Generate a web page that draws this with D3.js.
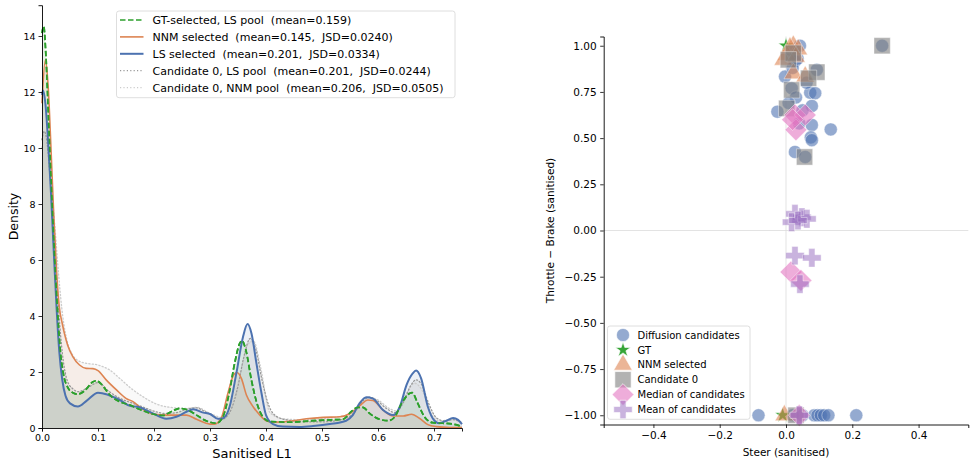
<!DOCTYPE html>
<html><head><meta charset="utf-8">
<script src="https://cdn.jsdelivr.net/npm/d3@7"></script>
<style>body{margin:0;background:#fff} text{font-family:"DejaVu Sans",sans-serif;fill:#000}</style>
</head><body><svg id="c" width="978" height="464"></svg>
<script>
// ---------- LEFT: KDE curves (x = Sanitised L1, y = density) ----------
const gtX  = [0,0.003,0.007,0.012,0.017,0.022,0.027,0.032,0.038,0.046,0.055,0.064,0.076,0.091,0.097,0.106,0.121,0.139,0.157,0.174,0.198,0.216,0.234,0.246,0.261,0.276,0.293,0.311,0.323,0.335,0.344,0.353,0.357,0.364,0.374,0.383,0.395,0.407,0.442,0.484,0.514,0.537,0.552,0.564,0.573,0.585,0.603,0.618,0.63,0.642,0.657,0.661,0.671,0.683,0.698,0.716,0.734,0.75];
const gtY  = [14.1,14.35,13.3,10.9,8.5,6.3,4.4,2.9,1.95,1.45,1.26,1.21,1.33,1.65,1.69,1.57,1.18,0.94,0.82,0.67,0.5,0.45,0.62,0.7,0.64,0.46,0.26,0.17,0.4,1.33,2.31,3.02,3.12,2.79,1.71,0.94,0.38,0.23,0.21,0.26,0.29,0.31,0.58,0.74,0.74,0.52,0.31,0.26,0.4,0.88,1.24,1.26,0.88,0.4,0.19,0.17,0.14,0.05];

const nnmX = [0,0.006,0.011,0.016,0.021,0.026,0.031,0.036,0.04,0.046,0.055,0.067,0.079,0.091,0.1,0.115,0.133,0.15,0.1625,0.18,0.198,0.222,0.24,0.258,0.276,0.3,0.308,0.32,0.332,0.342,0.348,0.356,0.365,0.377,0.389,0.4,0.4125,0.442,0.472,0.502,0.532,0.55,0.567,0.582,0.591,0.609,0.627,0.645,0.66,0.674,0.689,0.704,0.728,0.75];
const nnmY = [11.6,13.15,12.2,10.0,7.6,5.6,4.3,3.75,3.38,2.95,2.55,2.25,2.13,2.12,2.05,1.71,1.36,1.06,0.94,0.67,0.5,0.46,0.46,0.46,0.31,0.14,0.14,0.35,1.24,1.89,1.98,1.77,1.18,0.76,0.46,0.26,0.21,0.24,0.33,0.38,0.40,0.52,0.79,1.0,0.98,0.64,0.43,0.43,0.49,0.35,0.12,0.05,0.02,0.02];

const lsX  = [0,0.002,0.006,0.011,0.016,0.021,0.026,0.031,0.036,0.042,0.05,0.064,0.08,0.1,0.139,0.157,0.174,0.198,0.222,0.24,0.258,0.27,0.288,0.3,0.314,0.323,0.335,0.347,0.359,0.367,0.374,0.383,0.392,0.4,0.4125,0.43,0.46,0.484,0.514,0.543,0.555,0.567,0.579,0.591,0.609,0.627,0.639,0.651,0.662,0.668,0.677,0.689,0.701,0.71,0.722,0.734,0.743,0.75];
const lsY  = [11.9,12.05,11.6,10.2,8.4,6.3,4.3,2.7,1.75,1.15,0.88,0.77,0.98,1.26,1.0,0.79,0.74,0.52,0.33,0.4,0.58,0.67,0.55,0.5,0.33,0.35,0.76,1.95,3.26,3.71,3.38,2.3,1.24,0.46,0.14,0.05,0.04,0.07,0.14,0.26,0.46,0.88,1.1,1.05,0.64,0.46,0.76,1.54,1.95,2.05,1.77,0.76,0.26,0.17,0.26,0.36,0.29,0.14];

const c0lsX = [0,0.004,0.009,0.015,0.02,0.026,0.032,0.038,0.045,0.055,0.065,0.08,0.1,0.12,0.14,0.16,0.18,0.2,0.22,0.24,0.26,0.275,0.29,0.305,0.32,0.335,0.35,0.36,0.372,0.382,0.392,0.405,0.42,0.44,0.47,0.5,0.53,0.555,0.575,0.585,0.6,0.615,0.63,0.645,0.658,0.668,0.678,0.69,0.705,0.72,0.735,0.75];
const c0lsY = [10.3,10.6,10.2,8.8,7.4,5.4,3.6,2.4,1.7,1.4,1.3,1.42,1.62,1.3,1.05,0.9,0.75,0.6,0.52,0.55,0.68,0.72,0.6,0.45,0.3,0.55,1.5,2.5,3.2,2.8,1.8,0.8,0.4,0.28,0.22,0.22,0.28,0.5,1.0,1.1,0.95,0.7,0.55,0.9,1.5,1.72,1.55,0.9,0.35,0.25,0.3,0.2];

const c0nnmX = [0,0.005,0.011,0.017,0.023,0.03,0.037,0.045,0.055,0.067,0.08,0.1,0.121,0.139,0.157,0.18,0.204,0.228,0.258,0.276,0.3,0.322,0.341,0.355,0.368,0.378,0.39,0.407,0.43,0.46,0.5,0.53,0.555,0.58,0.6,0.62,0.635,0.65,0.665,0.68,0.695,0.71,0.73,0.75];
const c0nnmY = [10.0,10.4,9.8,8.6,7.2,5.4,4.0,3.1,2.6,2.38,2.31,2.25,2.07,1.77,1.45,1.12,0.86,0.74,0.7,0.74,0.52,0.38,1.0,2.0,3.0,3.1,2.2,0.55,0.33,0.3,0.33,0.4,0.55,1.1,1.0,0.7,0.6,1.2,1.6,1.3,0.5,0.25,0.3,0.15];

const kdeNames = ["GT-selected, LS pool  (mean=0.159)",
                  "NNM selected  (mean=0.145,  JSD=0.0240)",
                  "LS selected  (mean=0.201,  JSD=0.0334)",
                  "Candidate 0, LS pool  (mean=0.201,  JSD=0.0244)",
                  "Candidate 0, NNM pool  (mean=0.206,  JSD=0.0505)"];
const leftXTicks = [0,0.1,0.2,0.3,0.4,0.5,0.6,0.7];
const leftYTicks = [0,2,4,6,8,10,12,14];

// ---------- RIGHT: scatter (x = steer, y = throttle - brake) ----------
const candX = [0.042,0.027,0.012,-0.003,0.017,0.073,0.088,0.078,-0.026,0.135,0.078,0.075,0.078,0.027,0.058,0.093,0.29,0.03,0.008,0.05,0.04,0.02,0.062,0.035,
               -0.083,0.02,0.05,0.085,0.095,0.105,0.115,0.128,0.212];
const candY = [1.0,0.915,0.98,0.833,0.77,0.746,0.743,0.674,0.643,0.547,0.571,0.504,0.489,0.425,0.398,0.87,1.0,0.72,0.69,0.65,0.58,0.88,0.8,0.93,
               -1,-1,-1,-1,-1,-1,-1,-1,-1];
const gtPX = [0.0,-0.01];
const gtPY = [1.0,-1.0];
const nnmPX = [0.022,0.037,0.002,-0.008,0.012,0.03,0.022,0.058,-0.005];
const nnmPY = [1.0,0.98,0.95,0.924,0.99,0.94,0.85,0.833,-1.0];
const c0PX = [0.022,0.007,0.093,0.068,0.017,0.002,0.056,0.29,0.03];
const c0PY = [0.96,0.924,0.857,0.824,0.761,0.661,0.398,1.0,-1.0];
const medX = [0.027,0.058,0.03,0.02,0.015,0.045,0.04];
const medY = [0.625,0.625,0.545,0.6,-0.225,-0.27,-1.0];
const meanX = [0.027,0.048,0.017,0.063,0.036,0.027,0.078,0.042,0.04];
const meanY = [0.09,0.072,0.045,0.063,0.054,-0.136,-0.148,-0.29,-1.0];
const scatterNames = ["Diffusion candidates","GT","NNM selected","Candidate 0","Median of candidates","Mean of candidates"];
const rightXTicks = [-0.4,-0.2,0.0,0.2,0.4];
const rightYTicks = [-1.0,-0.75,-0.5,-0.25,0.0,0.25,0.5,0.75,1.0];

// ================= drawing =================
const svg = d3.select("#c");
const FONT = "DejaVu Sans, sans-serif";

// ---- left panel ----
const lx = d3.scaleLinear().domain([0,0.75]).range([42,462]);
const ly = d3.scaleLinear().domain([0,15.1]).range([428,5.2]);
const gL = svg.append("g");

const series = [
  {x:gtX,y:gtY,color:"#2ca02c",dash:"5.5,2.5",w:1.7,fill:"#2ca02c"},
  {x:nnmX,y:nnmY,color:"#dd8452",dash:null,w:1.6,fill:"#dd8452"},
  {x:lsX,y:lsY,color:"#4c72b0",dash:null,w:2.0,fill:"#4c72b0"},
  {x:c0lsX,y:c0lsY,color:"#999999",dash:"1.2,2.2",w:1.3,fill:"#808080"},
  {x:c0nnmX,y:c0nnmY,color:"#cccccc",dash:"1.2,2.2",w:1.3,fill:"#c0c0c0"}
];
const area = d3.area().x(d=>lx(d[0])).y0(ly(0)).y1(d=>ly(d[1])).curve(d3.curveMonotoneX);
const line = d3.line().x(d=>lx(d[0])).y(d=>ly(d[1])).curve(d3.curveMonotoneX);
series.forEach(s=>{ s.pts = s.x.map((v,i)=>[v,s.y[i]]); });
series.forEach(s=>{
  gL.append("path").attr("d",area(s.pts)).attr("fill",s.fill).attr("fill-opacity",0.1);
});
[4,3,0,1,2].forEach(i=>{
  const s=series[i];
  gL.append("path").attr("d",line(s.pts)).attr("fill","none").attr("stroke",s.color)
    .attr("stroke-width",s.w).attr("stroke-dasharray",s.dash).attr("stroke-linecap", s.dash && s.dash.startsWith("1.2")?"round":"butt");
});
gL.append("path").attr("d",line(series[0].pts)).attr("fill","none").attr("stroke","#2ca02c")
  .attr("stroke-width",1.7).attr("stroke-dasharray","5.5,2.5");

const axLB = gL.append("g").attr("transform","translate(0,428)")
  .call(d3.axisBottom(lx).tickValues(leftXTicks).tickFormat(d3.format(".1f")).tickSizeOuter(0).tickSize(3.5).tickPadding(3));
const axLL = gL.append("g").attr("transform","translate(42,0)")
  .call(d3.axisLeft(ly).tickValues(leftYTicks).tickFormat(d3.format("d")).tickSizeOuter(0).tickSize(3.5).tickPadding(3));
[axLB,axLL].forEach(a=>{a.selectAll("text").attr("font-size",9.5).attr("font-family",FONT).attr("fill","#000");
  a.selectAll("line").attr("stroke","#000").attr("stroke-width",0.8); a.select(".domain").attr("stroke","#000").attr("stroke-width",0.9);});

gL.append("text").attr("x",252).attr("y",458).attr("text-anchor","middle").attr("font-size",13).text("Sanitised L1");
gL.append("text").attr("transform","translate(18,216.5) rotate(-90)").attr("text-anchor","middle").attr("font-size",12.5).text("Density");

// left legend
const lg = gL.append("g");
lg.append("rect").attr("x",116.5).attr("y",11).attr("width",338.5).attr("height",86.7).attr("rx",2.5)
  .attr("fill","#fff").attr("fill-opacity",0.8).attr("stroke","#d5d5d5").attr("stroke-width",0.8);
kdeNames.forEach((n,i)=>{
  const s=series[i], cy=20+i*16.9;
  lg.append("line").attr("x1",120).attr("x2",143.5).attr("y1",cy).attr("y2",cy).attr("stroke",s.color)
    .attr("stroke-width",s.w).attr("stroke-dasharray",s.dash);
  lg.append("text").attr("x",152.5).attr("y",cy+4).attr("font-size",11).style("white-space","pre").text(n);
});

// ---- right panel ----
const rx = d3.scaleLinear().domain([-0.55,0.55]).range([603.7,968.3]);
const ry = d3.scaleLinear().domain([-1.05,1.05]).range([424.5,36.5]);
const gR = svg.append("g");
gR.append("line").attr("x1",rx(-0.55)).attr("x2",rx(0.55)).attr("y1",ry(0)).attr("y2",ry(0)).attr("stroke","#dcdcdc").attr("stroke-width",0.8);
gR.append("line").attr("x1",rx(0)).attr("x2",rx(0)).attr("y1",ry(-1.05)).attr("y2",ry(1.05)).attr("stroke","#dcdcdc").attr("stroke-width",0.8);

const mk = {
  circle:{sym:d3.symbolCircle,size:135,fill:"#4c72b0",op:0.6,rot:0},
  star:{sym:d3.symbolStar,size:70,fill:"#2ca02c",op:0.95,rot:0},
  tri:{sym:d3.symbolTriangle,size:150,fill:"#dd8452",op:0.6,rot:0},
  sq:{sym:d3.symbolSquare,size:265,fill:"#7f7f7f",op:0.6,rot:0},
  dia:{sym:d3.symbolSquare,size:240,fill:"#e377c2",op:0.6,rot:45},
  plus:{sym:d3.symbolCross,size:190,fill:"#9467bd",op:0.5,rot:0}
};
function drawPts(xs,ys,m){
  const p=d3.symbol().type(m.sym).size(m.size)();
  xs.forEach((v,i)=>{
    gR.append("path").attr("d",p).attr("transform",`translate(${rx(v)},${ry(ys[i])}) rotate(${m.rot})`)
      .attr("fill",m.fill).attr("fill-opacity",m.op).attr("stroke","#fff").attr("stroke-opacity",0.7).attr("stroke-width",0.6);
  });
}
drawPts(candX,candY,mk.circle);
drawPts(gtPX,gtPY,mk.star);
drawPts(nnmPX,nnmPY,mk.tri);
drawPts(c0PX,c0PY,mk.sq);
drawPts(medX,medY,mk.dia);
drawPts(meanX,meanY,mk.plus);

const axRB = gR.append("g").attr("transform","translate(0,424.5)")
  .call(d3.axisBottom(rx).tickValues(rightXTicks).tickFormat(d3.format(".1f")).tickSizeOuter(0).tickSize(3.5).tickPadding(3.5));
const axRL = gR.append("g").attr("transform","translate(603.7,0)")
  .call(d3.axisLeft(ry).tickValues(rightYTicks).tickFormat(d3.format(".2f")).tickSizeOuter(0).tickSize(3.5).tickPadding(3.5));
[axRB,axRL].forEach(a=>{a.selectAll("text").attr("font-size",10.5).attr("font-family",FONT).attr("fill","#000");
  a.selectAll("line").attr("stroke","#000").attr("stroke-width",0.8); a.select(".domain").attr("stroke","#000").attr("stroke-width",0.9);});

gR.append("text").attr("x",786).attr("y",456).attr("text-anchor","middle").attr("font-size",10.5).text("Steer (sanitised)");
gR.append("text").attr("transform","translate(554,230.5) rotate(-90)").attr("text-anchor","middle").attr("font-size",10.5).text("Throttle \u2212 Brake (sanitised)");

// right legend
const rg = gR.append("g");
rg.append("rect").attr("x",607.5).attr("y",326).attr("width",142.5).attr("height",93.3).attr("rx",2.5)
  .attr("fill","#fff").attr("fill-opacity",0.8).attr("stroke","#d5d5d5").attr("stroke-width",0.8);
const legMk=[mk.circle,mk.star,mk.tri,mk.sq,mk.dia,mk.plus];
scatterNames.forEach((n,i)=>{
  const cy=335+i*14.9, m=legMk[i];
  rg.append("path").attr("d",d3.symbol().type(m.sym).size(m.size)()).attr("transform",`translate(623,${cy}) rotate(${m.rot})`)
    .attr("fill",m.fill).attr("fill-opacity",m.op).attr("stroke","#fff").attr("stroke-width",0.6);
  rg.append("text").attr("x",637.5).attr("y",cy+3.6).attr("font-size",10).text(n);
});
</script></body></html>
